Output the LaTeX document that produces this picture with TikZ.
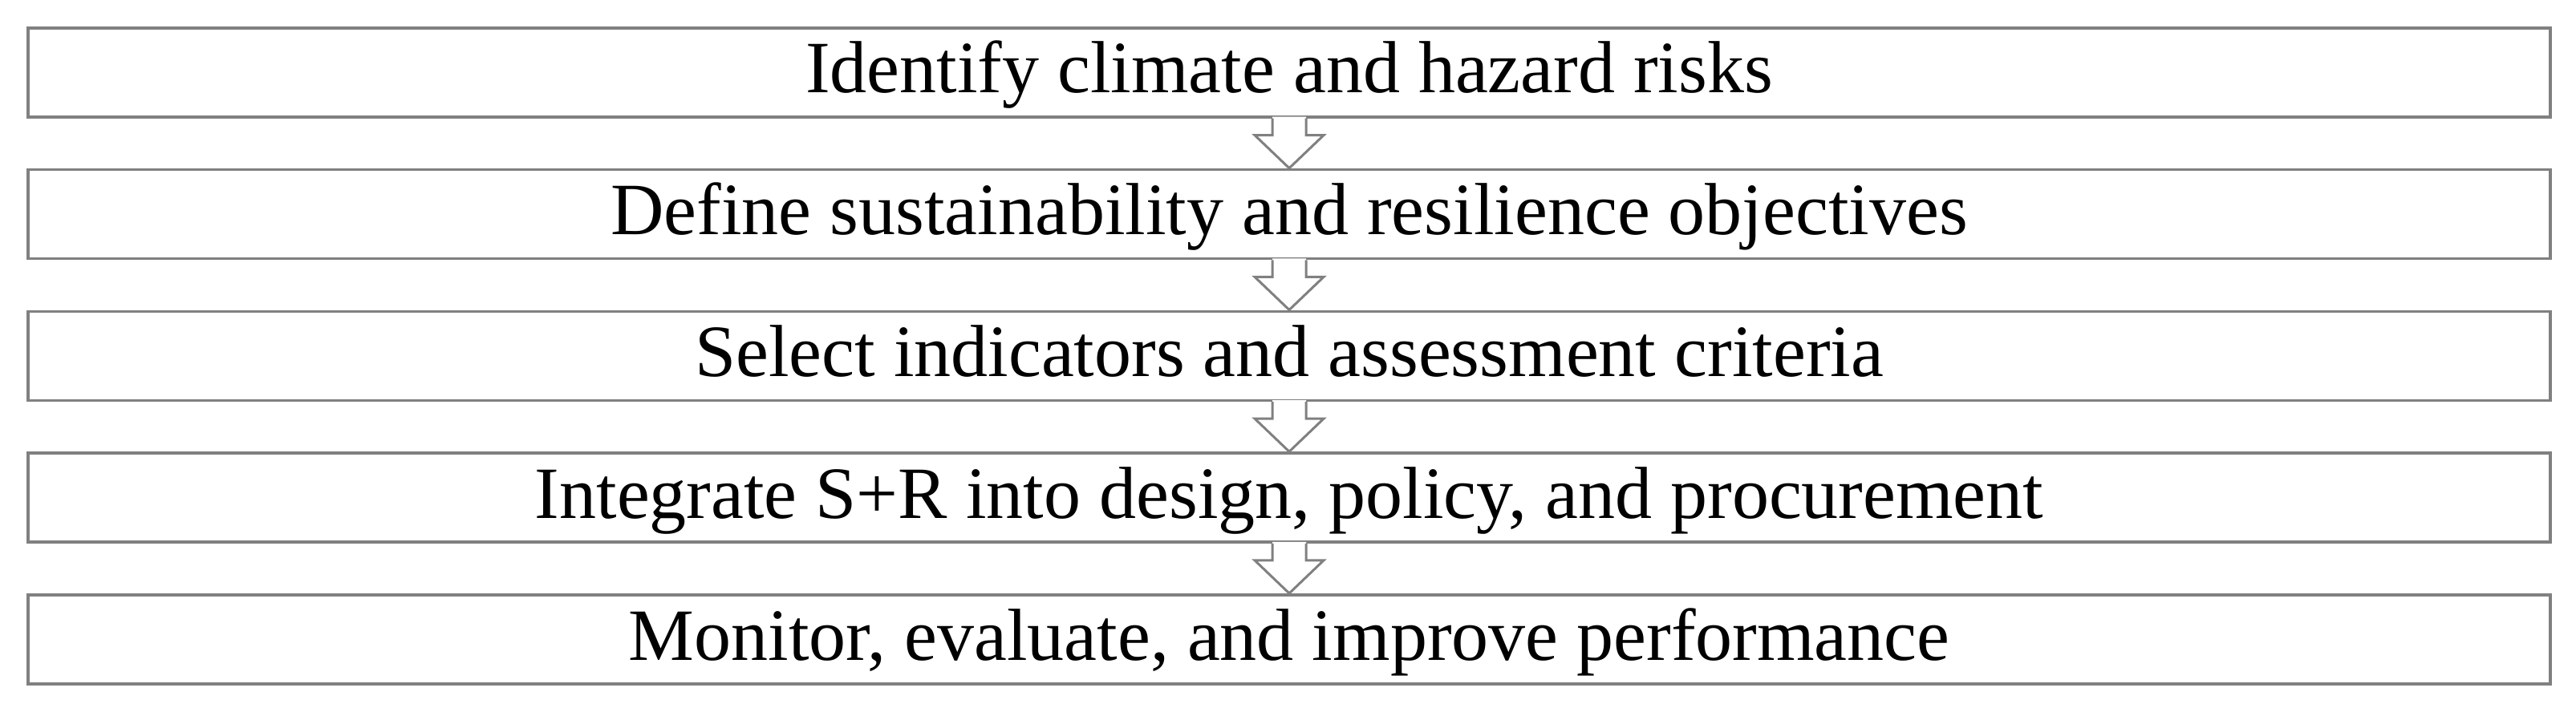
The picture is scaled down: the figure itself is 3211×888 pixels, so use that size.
\documentclass[tikz,border=0pt]{standalone}
\usepackage{fontspec}
\setmainfont{Liberation Serif}
\usetikzlibrary{calc}
\definecolor{boxgray}{RGB}{128,128,128}
\tikzset{
  stagebox/.style={draw=boxgray, line width=0.9pt, fill=white, minimum width=786pt, minimum height=27.75pt, inner sep=0pt, anchor=north},
  stagetext/.style={anchor=base, font=\fontsize{23}{27}\selectfont, text=black, inner sep=0pt},
  arrowline/.style={draw=boxgray, line width=0.75pt, line join=miter},
}
\begin{document}
\begin{tikzpicture}[x=0.25pt,y=-0.25pt]
\useasboundingbox (0,0) rectangle (3211,888);
\foreach \i/\t in {1/Identify climate and hazard risks,
                   2/Define sustainability and resilience objectives,
                   3/Select indicators and assessment criteria,
                   4/{Integrate S+R into design, policy, and procurement},
                   5/{Monitor, evaluate, and improve performance}}{
  \node[stagebox] (b\i) at (1607,{33+176.75*(\i-1)}) {};
  \node[stagetext] (t\i) at ($(b\i.north)+(0,83)$) {\t};
}
\foreach \a/\b in {1/2,2/3,3/4,4/5}{
  \fill[white] ($(b\a.south)+(-21,-2)$) -- ($(b\a.south)+(-21,21)$) -- ($(b\a.south)+(-43,21)$) -- (b\b.north) -- ($(b\a.south)+(43,21)$) -- ($(b\a.south)+(21,21)$) -- ($(b\a.south)+(21,-2)$) -- cycle;
  \draw[arrowline] ($(b\a.south)+(-21,0)$) -- ($(b\a.south)+(-21,21)$) -- ($(b\a.south)+(-43,21)$) -- (b\b.north) -- ($(b\a.south)+(43,21)$) -- ($(b\a.south)+(21,21)$) -- ($(b\a.south)+(21,0)$);
}
\end{tikzpicture}
\end{document}
